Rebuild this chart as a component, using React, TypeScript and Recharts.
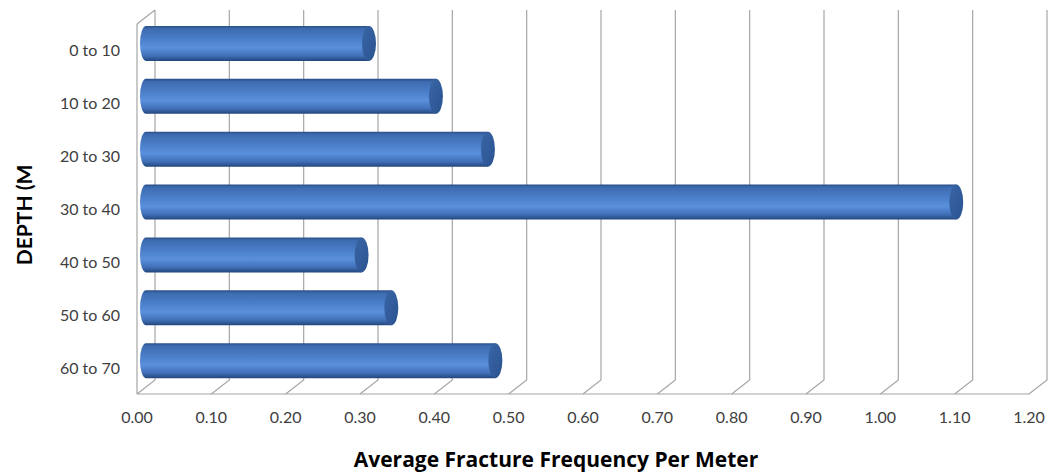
import { BarChart, Bar, XAxis, YAxis, CartesianGrid, Label } from 'recharts';

const depthRanges = ['0 to 10', '10 to 20', '20 to 30', '30 to 40', '40 to 50', '50 to 60', '60 to 70'];
const fractureFrequency = [0.3, 0.39, 0.46, 1.09, 0.29, 0.33, 0.47];
const xTicks = [0, 0.1, 0.2, 0.3, 0.4, 0.5, 0.6, 0.7, 0.8, 0.9, 1.0, 1.1, 1.2];

const xTitle = 'Average Fracture Frequency Per Meter';
const yTitle = 'DEPTH (M';

// depth offset of the fake 3d box (front -> back wall)
const DX = 18;
const DY = -14;
const GRID = '#a6a6a6';
const FONT = 'Lato, "Open Sans", sans-serif';

const data = depthRanges.map((depth, i) => ({ depth, value: fractureFrequency[i] }));

function gridLine(props: any) {
  const { x1, y1, y2, index } = props;
  const pts = `${x1},${y2} ${x1 + DX},${y2 + DY} ${x1 + DX},${y1 + DY}`;
  return (
    <g key={`v-${index}`}>
      <polyline points={pts} fill="none" stroke={GRID} strokeWidth={1.2} />
      {index === 0 && <line x1={x1} y1={y1} x2={x1 + DX} y2={y1 + DY} stroke={GRID} strokeWidth={1.2} />}
    </g>
  );
}

function Cylinder(props: any) {
  const { x, y, width, height } = props;
  const ry = height / 2;
  const x0 = x + DX / 2;
  const cx = x0 + width;
  const top = y + DY / 2;
  const bottom = top + height;
  const body = `M${x0},${top} L${cx},${top} L${cx},${bottom} L${x0},${bottom} A6,${ry} 0 0 1 ${x0},${top} Z`;
  return (
    <g>
      <path d={body} fill="url(#cylBody)" />
      <ellipse cx={cx} cy={top + ry} rx={7} ry={ry} fill="url(#cylCap)" />
    </g>
  );
}

function XTick(props: any) {
  const { x, y, payload } = props;
  return (
    <text x={x} y={y + 29} textAnchor="middle" fontSize={16} fontFamily={FONT} fill="#404040">
      {Number(payload.value).toFixed(2)}
    </text>
  );
}

function YTick(props: any) {
  const { x, y, payload } = props;
  return (
    <text x={x - 17} y={y + 6} textAnchor="end" fontSize={16} fontFamily={FONT} fill="#404040">
      {payload.value}
    </text>
  );
}

export default function App() {
  return (
    <div style={{ position: 'absolute', left: 0, top: 0, background: '#fff' }}>
      <BarChart
        width={1053}
        height={476}
        data={data}
        layout="vertical"
        margin={{ top: 24, right: 24, bottom: 0, left: 0 }}
        barSize={35}
      >
        <defs>
          <linearGradient id="cylBody" x1="0" y1="0" x2="0" y2="1">
            <stop offset="0%" stopColor="#2a4e86" />
            <stop offset="8%" stopColor="#3d6bb0" />
            <stop offset="40%" stopColor="#4c80ca" />
            <stop offset="62%" stopColor="#5a90dc" />
            <stop offset="85%" stopColor="#4170b8" />
            <stop offset="100%" stopColor="#23467c" />
          </linearGradient>
          <linearGradient id="cylCap" x1="0" y1="0" x2="1" y2="1">
            <stop offset="0%" stopColor="#3a66a6" />
            <stop offset="100%" stopColor="#2a5290" />
          </linearGradient>
        </defs>
        <CartesianGrid horizontal={false} vertical={gridLine} />
        <XAxis
          type="number"
          domain={[0, 1.2]}
          ticks={xTicks}
          interval={0}
          height={82}
          tickSize={0}
          tickMargin={0}
          tickLine={false}
          axisLine={{ stroke: GRID, strokeWidth: 1.2 }}
          tick={XTick}
        >
          <Label
            content={() => (
              <text
                x={556}
                y={467}
                textAnchor="middle"
                fontSize={21}
                fontWeight="bold"
                fontFamily='"Open Sans", Lato, sans-serif'
                fill="#000"
              >
                {xTitle}
              </text>
            )}
          />
        </XAxis>
        <YAxis
          type="category"
          dataKey="depth"
          width={137}
          tickSize={0}
          tickMargin={0}
          tickLine={false}
          axisLine={{ stroke: GRID, strokeWidth: 1.2 }}
          tick={YTick}
          interval={0}
        >
          <Label
            content={() => (
              <text
                transform="translate(32, 215) rotate(-90)"
                textAnchor="middle"
                fontSize={21}
                fontWeight="bold"
                fontFamily={FONT}
                fill="#000"
              >
                {yTitle}
              </text>
            )}
          />
        </YAxis>
        <Bar dataKey="value" shape={Cylinder} isAnimationActive={false} />
      </BarChart>
    </div>
  );
}
